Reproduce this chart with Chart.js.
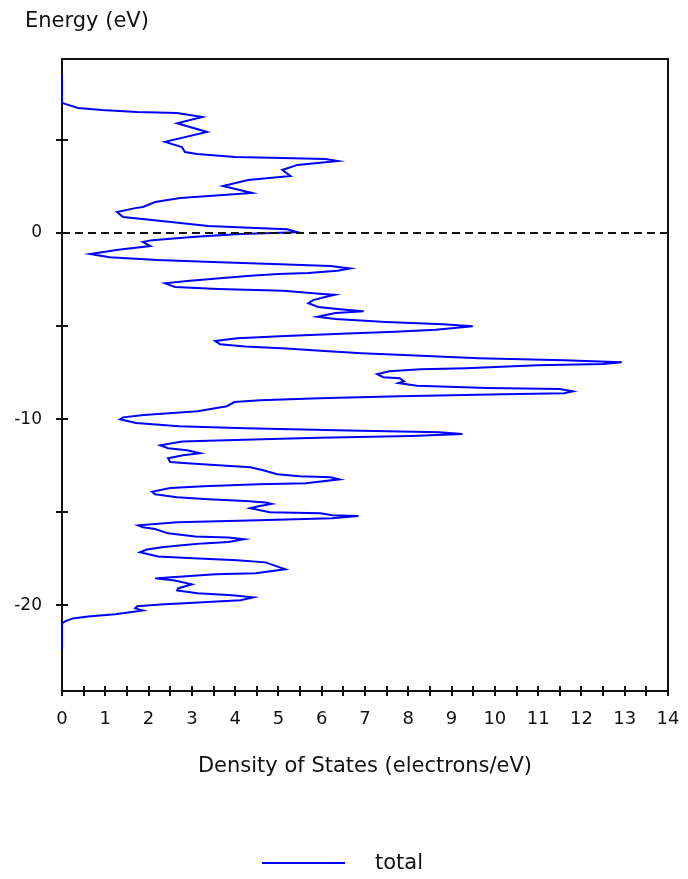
<!DOCTYPE html>
<html>
<head>
<meta charset="utf-8">
<script src="https://cdn.jsdelivr.net/npm/chart.js@4/dist/chart.umd.min.js"></script>
<style>
  body { margin: 0; background: #fff; }
  #wrap { position: relative; width: 688px; height: 879px; }
  .txt { position: absolute; font: 21px/25px "DejaVu Sans", sans-serif; color: #111; }
  #yTitle { left: 25px; top: 8px; }
  #legend { left: 262px; top: 850px; display: flex; align-items: center; }
  #legend .swatch { width: 83px; height: 2px; background: #0000ff; margin-right: 30px; }
</style>
</head>
<body>
<div id="wrap">
  <canvas id="dosChart"></canvas>
  <div id="yTitle" class="txt">Energy (eV)</div>
  <div id="legend" class="txt"><span class="swatch"></span><span>total</span></div>
</div>
<script>
// total density of states, energy (eV) vs electrons/eV
const energy = [
   8.5,  7.0,  6.94,  6.72,  6.61,  6.5,  6.45,  6.24,  5.9,  5.43,
   4.9,  4.62, 4.35,  4.25,  4.09,  4.03, 3.98,  3.87,  3.66, 3.39,
   3.06, 2.85, 2.53,  2.15,  1.88,  1.67, 1.4,   1.34,  1.13, 0.86,
   0.7,  0.38, 0.27,  0.2,   0.05, -0.05, -0.2, -0.38, -0.48, -0.7,
  -0.9, -1.13, -1.3, -1.45, -1.57, -1.67, -1.77, -1.9, -2.03, -2.14,
  -2.2, -2.3, -2.43, -2.57, -2.7, -2.9, -3.0, -3.1, -3.28, -3.32,
  -3.43, -3.6, -3.77, -3.97, -4.1, -4.2, -4.3, -4.5, -4.62, -4.78,
  -4.9, -5.0, -5.2, -5.3, -5.4, -5.53, -5.65, -5.8, -5.97, -6.1,
  -6.2, -6.34, -6.45, -6.56, -6.72, -6.83, -6.94, -7.04, -7.1, -7.26,
  -7.31, -7.42, -7.58, -7.74, -7.8, -7.96, -8.06, -8.2, -8.33, -8.38,
  -8.5, -8.6, -8.66, -8.76, -8.87, -8.98, -9.08, -9.3, -9.4, -9.57,
  -9.68, -9.78, -9.9, -10.0, -10.2, -10.38, -10.48, -10.6, -10.7, -10.8,
  -10.9, -11.0, -11.1, -11.2, -11.4, -11.56, -11.67, -11.83, -11.94, -12.1,
  -12.3, -12.37, -12.47, -12.58, -12.74, -12.96, -13.06, -13.12, -13.23, -13.44,
  -13.5, -13.6, -13.7, -13.9, -14.03, -14.19, -14.3, -14.4, -14.48, -14.55,
  -14.68, -14.78, -15.0, -15.05, -15.16, -15.2, -15.32, -15.43, -15.54, -15.7,
  -15.8, -15.9, -16.13, -16.3, -16.35, -16.45, -16.6, -16.67, -16.77, -16.88,
  -17.0, -17.15, -17.37, -17.47, -17.58, -17.69, -18.06, -18.28, -18.33, -18.5,
  -18.55, -18.66, -18.87, -19.09, -19.2, -19.35, -19.46, -19.57, -19.73, -19.84,
  -19.95, -20.05, -20.16, -20.27, -20.48, -20.6, -20.7, -20.86, -20.97, -22.4
];
const dos = [
  0,    0,    0.07, 0.37, 0.92, 1.73, 2.66, 3.24, 2.66, 3.35,
  2.38, 2.77, 2.84, 3.12, 4.0,  5.09, 6.08, 6.37, 5.44, 5.09,
  5.28, 4.3,  3.72, 4.39, 2.73, 2.15, 1.87, 1.69, 1.27, 1.41,
  2.08, 3.38, 4.47, 5.2,  5.44, 4.12, 3.08, 2.08, 1.87, 2.04,
  1.3,  0.65, 1.1,  2.2,  3.65, 5.04, 6.2,  6.66, 6.36, 5.69,
  5.0,  4.35, 3.65, 2.89, 2.38, 2.61, 3.61, 5.11, 6.02, 6.29,
  6.08, 5.8,  5.69, 5.92, 6.48, 6.97, 6.32, 5.9,  6.32, 7.48,
  8.8,  9.49, 8.63, 7.7,  6.6,  5.16, 4.05, 3.54, 3.65, 4.23,
  5.18, 6.06, 6.92, 8.03, 9.63, 11.6, 12.93, 12.5, 10.98, 9.33,
  8.28, 7.56, 7.28, 7.42, 7.8,  7.9,  7.77, 8.2,  9.83, 11.5,
  11.8, 11.6, 10.2, 7.8,  5.94, 4.58, 3.98, 3.81, 3.57, 3.13,
  2.47, 1.89, 1.41, 1.34, 1.71, 2.7,  4.24, 6.62, 8.71, 9.25,
  8.07, 5.94, 4.2,  2.78, 2.27, 2.45, 2.89, 3.19, 2.8,  2.45,
  2.5,  2.89, 3.61, 4.35, 4.65, 4.97, 5.5,  6.2,  6.41, 5.63,
  4.54, 3.26, 2.5,  2.08, 2.15, 2.66, 3.38, 4.24, 4.7,  4.84,
  4.54, 4.35, 4.8,  5.97, 6.24, 6.85, 6.24, 4.54, 2.66, 1.76,
  1.87, 2.15, 2.45, 3.08, 3.84, 4.21, 3.84, 3.26, 2.77, 2.31,
  1.96, 1.8,  2.22, 3.03, 4.05, 4.7,  5.16, 4.47, 3.54, 2.45,
  2.15, 2.61, 3.0,  2.68, 2.66, 3.13, 3.93, 4.42, 4.12, 3.15,
  2.27, 1.74, 1.69, 1.87, 1.23, 0.6,  0.25, 0.07, 0,    0
];

const fermiLevel = 0;
const dosRange = [0, 14];
const energyRange = [-24.6, 9.35];
const labelledEnergies = [0, -10, -20];

const totalPoints = energy.map((e, i) => ({ x: dos[i], y: e }));

// frame round the plot + ticks that cross the axis lines (drawn under the curve)
const frameTicks = {
  id: 'frameTicks',
  beforeDatasetsDraw(chart) {
    const { ctx, chartArea: a, scales: { x, y } } = chart;
    ctx.save();
    ctx.strokeStyle = '#111';
    ctx.lineWidth = 2;
    ctx.strokeRect(a.left, a.top, a.right - a.left, a.bottom - a.top);
    ctx.beginPath();
    y.ticks.forEach(t => {
      if (Math.abs(t.value % 5) > 1e-6) return;
      const py = Math.round(y.getPixelForValue(t.value));
      ctx.moveTo(a.left - 6, py);
      ctx.lineTo(a.left + 6, py);
    });
    x.ticks.forEach(t => {
      const px = Math.round(x.getPixelForValue(t.value));
      ctx.moveTo(px, a.bottom - 5);
      ctx.lineTo(px, a.bottom + 5);
    });
    ctx.stroke();
    ctx.restore();
  }
};

new Chart(document.getElementById('dosChart'), {
  type: 'scatter',
  data: {
    datasets: [
      {
        label: 'E = 0',
        data: [{ x: dosRange[0], y: fermiLevel }, { x: dosRange[1], y: fermiLevel }],
        showLine: true,
        borderColor: '#111',
        borderWidth: 2,
        borderDash: [8, 5],
        pointRadius: 0
      },
      {
        label: 'total',
        data: totalPoints,
        showLine: true,
        borderColor: '#0000ff',
        borderWidth: 2,
        tension: 0,
        pointRadius: 0
      }
    ]
  },
  options: {
    responsive: true,
    maintainAspectRatio: false,
    animation: false,
    layout: { padding: { left: 0, right: 20, top: 59, bottom: 98 } },
    plugins: {
      legend: { display: false },
      tooltip: { enabled: false }
    },
    scales: {
      x: {
        type: 'linear',
        min: dosRange[0],
        max: dosRange[1],
        grid: { display: false, drawTicks: false },
        border: { display: false },
        ticks: {
          stepSize: 0.5,
          padding: 18,
          color: '#111',
          font: { family: 'DejaVu Sans', size: 18 },
          maxRotation: 0,
          autoSkip: false,
          callback: v => Number.isInteger(v) ? String(v) : ''
        },
        title: {
          display: true,
          text: 'Density of States (electrons/eV)',
          color: '#111',
          font: { family: 'DejaVu Sans', size: 21 },
          padding: { top: 0, bottom: 2 }
        },
        afterFit: s => { s.height = 90; s.paddingLeft = 0; s.paddingRight = 0; }
      },
      y: {
        type: 'linear',
        min: energyRange[0],
        max: energyRange[1],
        grid: { display: false, drawTicks: false },
        border: { display: false },
        ticks: {
          stepSize: 5,
          includeBounds: false,
          padding: 20,
          color: '#111',
          font: { family: 'DejaVu Sans', size: 17 },
          autoSkip: false,
          callback: v => labelledEnergies.includes(v) ? String(v) : ''
        },
        afterFit: s => { s.width = 62; s.paddingTop = 0; s.paddingBottom = 0; }
      }
    }
  },
  plugins: [frameTicks]
});
</script>
</body>
</html>
